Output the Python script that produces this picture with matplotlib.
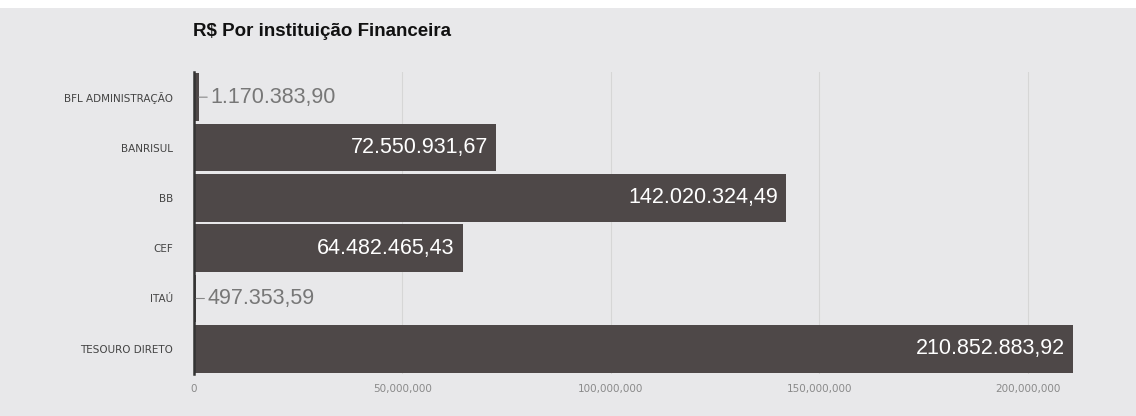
import matplotlib
matplotlib.use("Agg")
import matplotlib.pyplot as plt
from matplotlib.patches import Rectangle

categories = ["BFL ADMINISTRAÇÃO", "BANRISUL", "BB", "CEF", "ITAÚ", "TESOURO DIRETO"]
values = [1170383.90, 72550931.67, 142020324.49, 64482465.43, 497353.59, 210852883.92]
value_labels = ["1.170.383,90", "72.550.931,67", "142.020.324,49", "64.482.465,43",
                "497.353,59", "210.852.883,92"]
xticks = [0, 50000000, 100000000, 150000000, 200000000]
xtick_labels = ["0", "50,000,000", "100,000,000", "150,000,000", "200,000,000"]
title = "R$ Por instituição Financeira"

plt.rcParams['font.family'] = ['Liberation Sans', 'DejaVu Sans']

W, H = 1136, 416
fig = plt.figure(figsize=(W / 100, H / 100), dpi=100)
fig.patch.set_facecolor("white")
bg = "#e8e8ea"
fig.patches.append(Rectangle((0, 0), 1, 1 - 8 / H, transform=fig.transFigure,
                             facecolor=bg, edgecolor="none", zorder=-10))

left, right = 194 / W, 1111 / W
bottom, top = 1 - 374 / H, 1 - 72 / H
ax = fig.add_axes([left, bottom, right - left, top - bottom])
ax.set_facecolor("none")

y = list(range(len(categories)))
bar_color = "#4e4848"
ax.barh(y, values, height=0.95, color=bar_color, zorder=2)
ax.set_ylim(len(categories) - 0.5, -0.5)
ax.set_xlim(0, 220000000)

ax.set_yticks(y)
ax.set_yticklabels(categories, fontsize=7.5, color="#444444", family="DejaVu Sans")
ax.set_xticks(xticks)
ax.set_xticklabels(xtick_labels, fontsize=7.5, color="#8a8a8a", family="DejaVu Sans")
ax.tick_params(axis="y", length=0, pad=15)
ax.tick_params(axis="x", length=0, pad=7)

for s in ["top", "right", "bottom"]:
    ax.spines[s].set_visible(False)
ax.spines["left"].set_color("#333333")
ax.spines["left"].set_linewidth(1.8)
ax.spines["left"].set_zorder(3)

ax.grid(axis="x", color="#d6d6d6", linewidth=0.8, zorder=0)
ax.set_axisbelow(True)

xmax = ax.get_xlim()[1]
for yi, v, lab in zip(y, values, value_labels):
    if v / xmax > 0.15:
        ax.annotate(lab, xy=(v, yi), xytext=(-6, 0), textcoords="offset points",
                    ha="right", va="center", fontsize=15.5, color="white", zorder=4)
    else:
        ax.annotate(lab, xy=(v, yi), xytext=(8, 0), textcoords="offset points",
                    ha="left", va="center", fontsize=15.5, color="#777777", zorder=4,
                    arrowprops=dict(arrowstyle="-", color="#888888", lw=0.8,
                                    shrinkA=0, shrinkB=0))

fig.text(193 / W, 1 - 32 / H, title, fontsize=13.5, fontweight="bold",
         color="#111111", ha="left", va="center")

fig.savefig("out.png", dpi=100, facecolor=fig.get_facecolor())
